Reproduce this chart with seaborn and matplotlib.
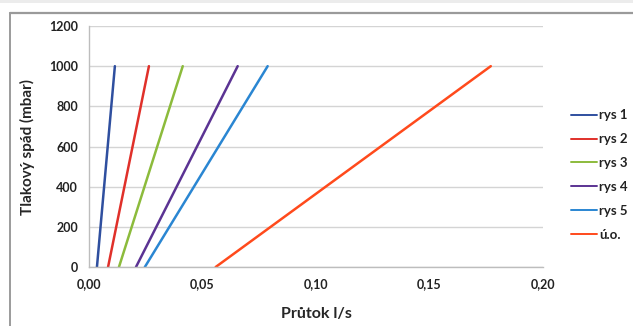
import pandas as pd
import numpy as np
import matplotlib.pyplot as plt
import matplotlib.patches as patches
import seaborn as sns

# === Data ===
series = ["rys 1", "rys 2", "rys 3", "rys 4", "rys 5", "ú.o."]
flow_at_0 = [0.0035, 0.0084, 0.0132, 0.0207, 0.0246, 0.0558]      # l/s at 0 mbar
flow_at_1000 = [0.0114, 0.0264, 0.0413, 0.0655, 0.0787, 0.1770]   # l/s at 1000 mbar
pressure = [0, 1000]
colors = ["#2f4f9f", "#e0302a", "#8cbb3c", "#5b3393", "#2a86d2", "#ff4a1c"]

x_ticks = [0.00, 0.05, 0.10, 0.15, 0.20]
y_ticks = [0, 200, 400, 600, 800, 1000, 1200]

rows = []
for name, a, b in zip(series, flow_at_0, flow_at_1000):
    rows.append({"series": name, "flow": a, "pressure": pressure[0]})
    rows.append({"series": name, "flow": b, "pressure": pressure[1]})
df = pd.DataFrame(rows)

# === Plot ===
sns.set_style("white")
plt.rcParams["font.family"] = ["Lato", "DejaVu Sans"]

fig = plt.figure(figsize=(6.33, 3.26), dpi=100)
ax = fig.add_axes([89 / 633, 1 - 267 / 326, (543 - 89) / 633, (267 - 26) / 326])

# outer chart frame + grey strip at the top
fig.patches.append(patches.Rectangle((0, 1 - 3 / 326), 1, 3 / 326, transform=fig.transFigure,
                                     facecolor="#ececec", edgecolor="none"))
fig.lines.append(plt.Line2D([10 / 633, 10 / 633], [0, 1 - 13 / 326], transform=fig.transFigure,
                            color="#8a8a8a", lw=1.2))
fig.lines.append(plt.Line2D([10 / 633, 1], [1 - 13 / 326, 1 - 13 / 326], transform=fig.transFigure,
                            color="#9a9a9a", lw=1.6))

sns.lineplot(data=df, x="flow", y="pressure", hue="series", hue_order=series,
             palette=colors, sort=False, lw=1.8, ax=ax)

ax.set_xlim(0, 0.20)
ax.set_ylim(0, 1200)
ax.set_xticks(x_ticks)
ax.set_xticklabels([f"{v:.2f}".replace(".", ",") for v in x_ticks])
ax.set_yticks(y_ticks)
ax.set_yticklabels([str(v) for v in y_ticks])
ax.grid(axis="y", color="#d4d4d4", lw=1)
ax.grid(axis="x", visible=False)
for s in ["top", "right"]:
    ax.spines[s].set_visible(False)
for s in ["left", "bottom"]:
    ax.spines[s].set_color("#bdbdbd")
    ax.spines[s].set_linewidth(1)
ax.tick_params(axis="both", direction="out", length=4, color="#bdbdbd", width=1,
               labelsize=9, pad=4)
for lab in ax.get_xticklabels() + ax.get_yticklabels():
    lab.set_fontweight("bold")
    lab.set_color("#222222")

ax.set_xlabel("Průtok l/s", fontsize=11.5, fontweight="bold")
ax.set_ylabel("Tlakový spád (mbar)", fontsize=11, fontweight="bold")
ax.xaxis.set_label_coords(0.5, -(307 - 267) / 241)
ax.yaxis.set_label_coords(-(89 - 35) / 454, 0.5)

leg = ax.legend(loc="center left", bbox_to_anchor=(1.035, 0.382), frameon=False,
                fontsize=9.5, handlelength=2.0, handletextpad=0.15, labelspacing=0.9)
for t in leg.get_texts():
    t.set_fontweight("bold")
    t.set_color("#222222")
for ln in leg.get_lines():
    ln.set_linewidth(1.4)

plt.savefig("out.png", dpi=100)
